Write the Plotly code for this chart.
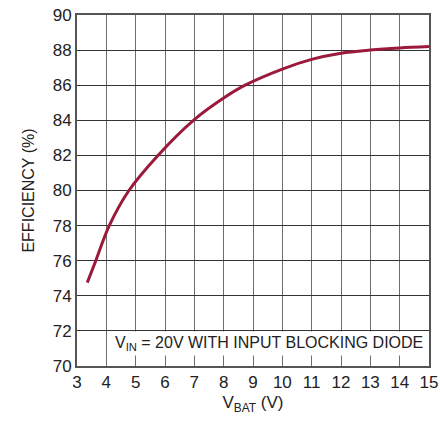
import plotly.graph_objects as go

vbat = [3.35, 3.64, 4.1, 4.77, 5.76, 6.97, 8.0, 8.73, 10, 11, 12, 13, 14, 15]
efficiency = [74.75, 76.0, 78.0, 80.0, 82.0, 84.0, 85.27, 86.0, 86.92, 87.47, 87.82, 88.0, 88.12, 88.2]

x_ticks = list(range(3, 16))
y_ticks = list(range(70, 91, 2))

FONT = "Liberation Sans, Arial, sans-serif"

fig = go.Figure()
fig.add_trace(go.Scatter(
    x=vbat, y=efficiency, mode="lines",
    line=dict(color="#9b1a3c", width=3, shape="spline", smoothing=1.0),
    showlegend=False, hoverinfo="skip",
))

fig.add_annotation(
    x=15, y=70.55, xref="x", yref="y", xanchor="right", yanchor="bottom",
    text="V<sub>IN</sub> = 20V WITH INPUT BLOCKING DIODE",
    showarrow=False, bgcolor="white", borderpad=2,
    font=dict(family=FONT, size=16, color="#222"),
    xshift=-3,
)

fig.update_xaxes(
    range=[3, 15], tickvals=x_ticks, ticktext=[str(v) for v in x_ticks],
    showgrid=True, gridcolor="#6e6e6e", gridwidth=1.3,
    showline=True, mirror=True, linecolor="#555", linewidth=2,
    ticks="", zeroline=False, automargin=False, ticklabeloverflow="allow",
    tickfont=dict(family=FONT, size=17, color="#222"),
    title=dict(text="V<sub>BAT</sub> (V)", font=dict(family=FONT, size=17, color="#222"), standoff=5),
)
fig.update_yaxes(
    range=[70, 90], tickvals=y_ticks, ticktext=[str(v) for v in y_ticks],
    showgrid=True, gridcolor="#333", gridwidth=1.3,
    showline=True, mirror=True, linecolor="#555", linewidth=2,
    ticks="", zeroline=False, automargin=False, ticklabeloverflow="allow",
    tickfont=dict(family=FONT, size=17, color="#222"),
    title=dict(text="EFFICIENCY (%)", font=dict(family=FONT, size=16, color="#222"), standoff=14),
)

fig.update_layout(
    width=440, height=423,
    margin=dict(l=77, r=11, t=15, b=57),
    paper_bgcolor="white", plot_bgcolor="white",
)

fig.write_html(
    "out.html",
    config={"displayModeBar": False},
    post_script="document.body.style.margin='0';document.body.style.overflow='hidden';",
)
